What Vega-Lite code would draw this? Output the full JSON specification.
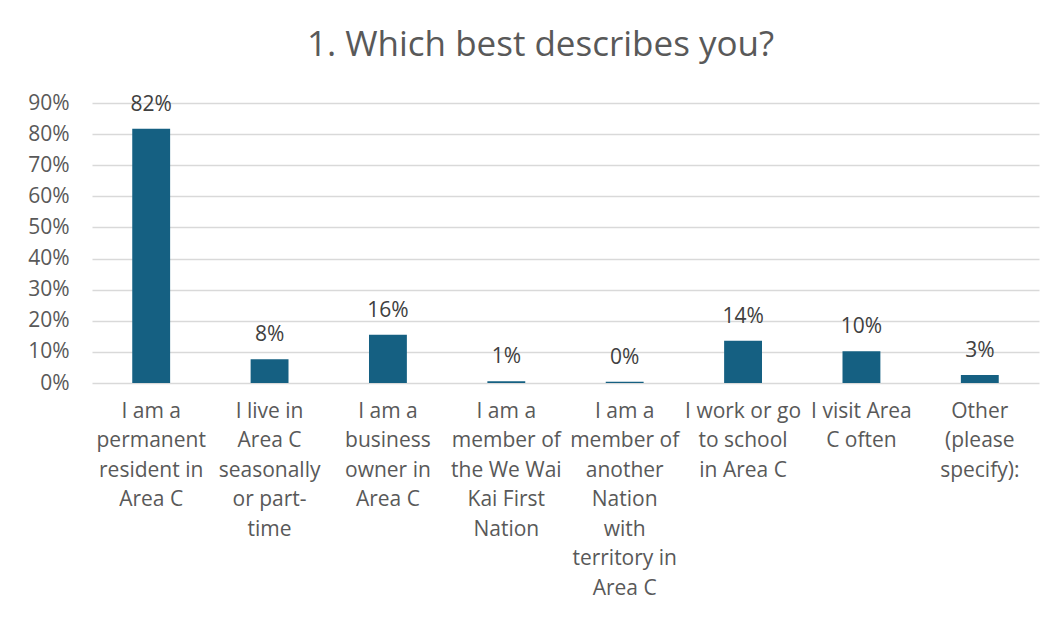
{
  "$schema": "https://vega.github.io/schema/vega-lite/v6.json",
  "autosize": "none",
  "width": 947,
  "height": 280,
  "padding": {"left": 92, "top": 103, "right": 19, "bottom": 235},
  "background": "white",
  "title": {
    "text": "1. Which best describes you?",
    "fontSize": 35,
    "font": "Open Sans",
    "fontWeight": "normal",
    "color": "#595959",
    "anchor": "middle",
    "dx": -25,
    "offset": 29
  },
  "data": {
    "values": [
      {"category": "I am a|permanent|resident in|Area C", "share": 0.817},
      {"category": "I live in|Area C|seasonally|or part-|time", "share": 0.076},
      {"category": "I am a|business|owner in|Area C", "share": 0.155},
      {"category": "I am a|member of|the We Wai|Kai First|Nation", "share": 0.006},
      {"category": "I am a|member of|another|Nation|with|territory in|Area C", "share": 0.004},
      {"category": "I work or go|to school|in Area C", "share": 0.136},
      {"category": "I visit Area|C often", "share": 0.102},
      {"category": "Other|(please|specify):", "share": 0.026}
    ]
  },
  "encoding": {
    "x": {
      "field": "category",
      "type": "nominal",
      "sort": null,
      "scale": {"paddingInner": 0.68, "paddingOuter": 0.34},
      "axis": {
        "title": null,
        "labelAngle": 0,
        "labelExpr": "split(datum.label, '|')",
        "labelFont": "Open Sans",
        "labelFontSize": 21,
        "labelColor": "#595959",
        "labelLineHeight": 29.5,
        "labelPadding": 17,
        "labelLimit": 0,
        "labelBaseline": "top",
        "ticks": false,
        "domain": false,
        "grid": false
      }
    },
    "y": {
      "field": "share",
      "type": "quantitative",
      "scale": {"domain": [0, 0.9], "nice": false},
      "axis": {
        "title": null,
        "format": ".0%",
        "values": [0, 0.1, 0.2, 0.3, 0.4, 0.5, 0.6, 0.7, 0.8, 0.9],
        "labelFont": "Open Sans",
        "labelFontSize": 21,
        "labelColor": "#595959",
        "labelPadding": 23,
        "ticks": false,
        "domain": false,
        "grid": true,
        "gridColor": "#d9d9d9",
        "gridWidth": 1.5
      }
    }
  },
  "layer": [
    {"mark": {"type": "bar", "color": "#156082"}},
    {
      "mark": {
        "type": "text",
        "font": "Open Sans",
        "fontSize": 21,
        "color": "#404040",
        "baseline": "alphabetic",
        "dy": -18
      },
      "encoding": {
        "text": {"field": "share", "type": "quantitative", "format": ".0%"}
      }
    }
  ],
  "config": {"view": {"stroke": null}}
}
